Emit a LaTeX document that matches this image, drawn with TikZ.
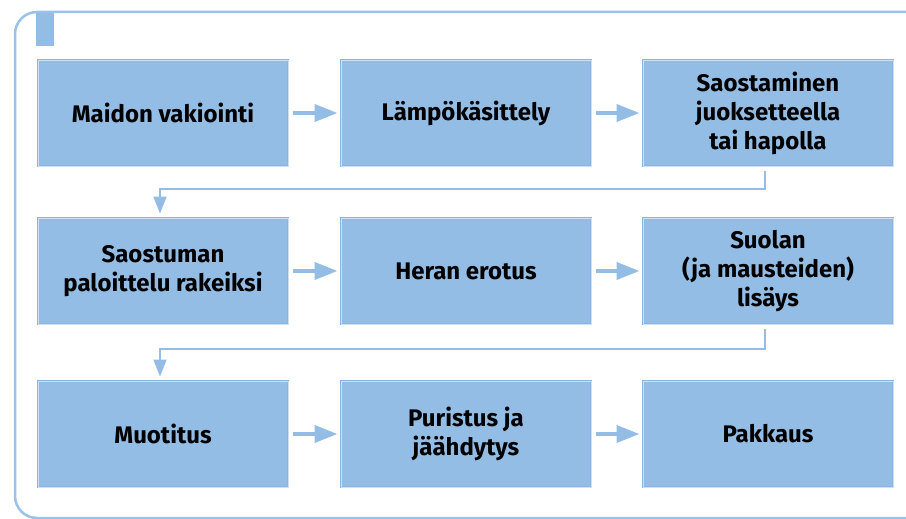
\documentclass[tikz,border=0pt]{standalone}
\usepackage{fontspec}
\setmainfont{Fira Sans}
\usetikzlibrary{arrows.meta}
\definecolor{boxblue}{RGB}{148,189,229}
\definecolor{edgeblue}{RGB}{138,180,225}
\definecolor{lineblue}{RGB}{205,225,245}
\definecolor{frameblue}{RGB}{155,194,232}
\tikzset{
  stepbox/.style={fill=boxblue,draw=edgeblue,line width=1pt,double=lineblue,double distance=0.8pt,
    minimum width=250pt,minimum height=106pt,align=center,text=black,
    font=\fontsize{24}{29}\selectfont\bfseries},
  flow/.style={boxblue,line width=4pt,-{Triangle[length=23pt,width=17pt]},shorten <=4pt,shorten >=3pt},
  turn/.style={boxblue,line width=2pt,-{Triangle[length=17pt,width=13pt]}}
}
\begin{document}
\begin{tikzpicture}[x=1pt,y=-1pt]
        \useasboundingbox (0,0) rectangle (906,519);
        \clip (0,0) rectangle (906,519);
        %% frame and tab
        \draw[frameblue,line width=2.5pt,rounded corners=22pt] (15,12) rectangle (930,518);
        \fill[boxblue] (36,13) rectangle (54,46);
        %% row 1
        \node[stepbox] (maidon) at (163,113) {Maidon vakiointi};
        \node[stepbox] (lampo) at (466,113) {Lämpökäsittely};
        \node[stepbox] (saostus) at (768,113) {Saostaminen\\juoksetteella\\tai hapolla};
        %% row 2
        \node[stepbox] (paloittelu) at (163,271) {Saostuman\\paloittelu rakeiksi};
        \node[stepbox] (hera) at (466,271) {Heran erotus};
        \node[stepbox] (suola) at (768,271) {Suolan\\(ja mausteiden)\\lisäys};
        %% row 3
        \node[stepbox] (muotitus) at (163,434) {Muotitus};
        \node[stepbox] (puristus) at (466,434) {Puristus ja\\jäähdytys};
        \node[stepbox] (pakkaus) at (768,434) {Pakkaus};
        %% arrows
        \draw[flow] (maidon) -- (lampo);
        \draw[flow] (lampo) -- (saostus);
        \draw[flow] (paloittelu) -- (hera);
        \draw[flow] (hera) -- (suola);
        \draw[flow] (muotitus) -- (puristus);
        \draw[flow] (puristus) -- (pakkaus);
        \draw[turn] ([xshift=-3pt,yshift=-4pt]saostus.south) -- ++(0,18) -| ([xshift=-3pt,yshift=4pt]paloittelu.north);
        \draw[turn] ([xshift=-3pt,yshift=-4pt]suola.south) -- ++(0,20) -| ([xshift=-3pt,yshift=4pt]muotitus.north);
\end{tikzpicture}
\end{document}
